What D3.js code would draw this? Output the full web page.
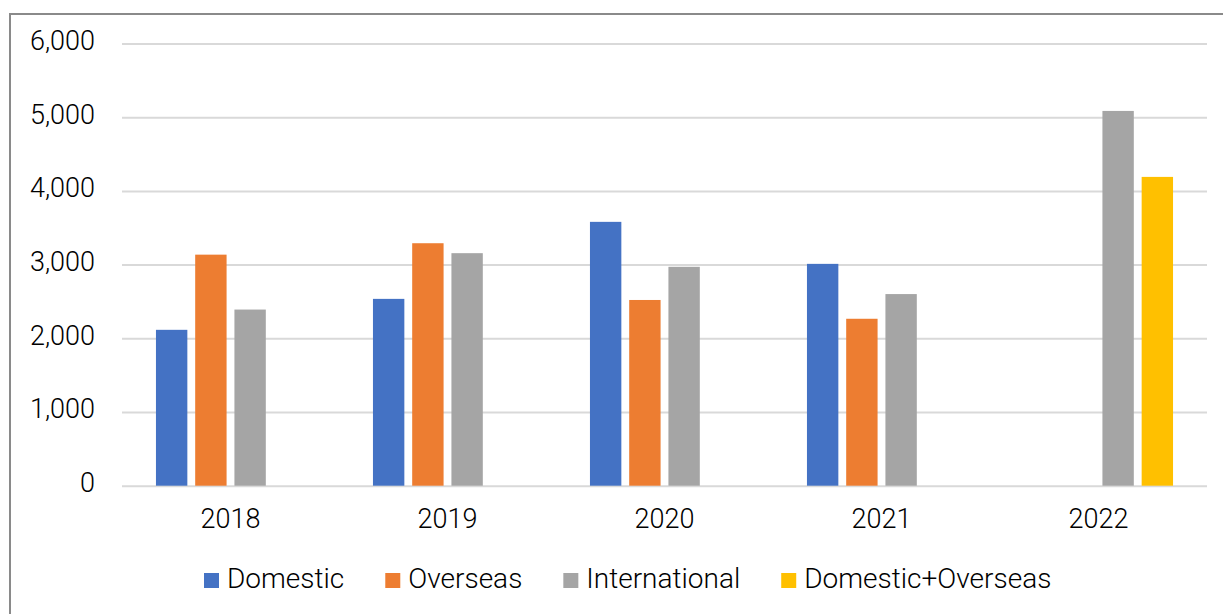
<!DOCTYPE html>
<html>
<head>
<meta charset="utf-8">
<script src="https://cdn.jsdelivr.net/npm/d3@7"></script>
<style>
  html, body { margin: 0; padding: 0; background: #fff; }
  svg { display: block; }
  text { font-family: Roboto, "Liberation Sans", sans-serif; font-weight: 300; fill: #000; }
</style>
</head>
<body>
<svg id="chart" width="1223" height="614"></svg>
<script>
const categories = ["2018", "2019", "2020", "2021", "2022"];
const seriesNames = ["Domestic", "Overseas", "International", "Domestic+Overseas"];
const domestic = [2115, 2535, 3580, 3010, null];
const overseas = [3135, 3290, 2520, 2265, null];
const international = [2390, 3155, 2970, 2600, 5085];
const domesticPlusOverseas = [null, null, null, null, 4190];
const yTicks = [0, 1000, 2000, 3000, 4000, 5000, 6000];
const colors = ["#4472C4", "#ED7D31", "#A5A5A5", "#FFC000"];

const seriesValues = [domestic, overseas, international, domesticPlusOverseas];

const svg = d3.select("#chart");
const W = 1223, H = 614;

// chart border (extends beyond right & bottom edge as in reference)
svg.append("rect")
  .attr("x", 10).attr("y", 14)
  .attr("width", W + 20).attr("height", H + 20)
  .attr("fill", "none").attr("stroke", "#8a8a8a").attr("stroke-width", 2);

const plot = { left: 122, right: 1207, top: 43.5, bottom: 485.7 };

const y = d3.scaleLinear().domain([0, 6000]).range([plot.bottom, plot.top]);
const x0 = d3.scaleBand().domain(categories)
  .range([plot.left, plot.right])
  .paddingInner(0.313).paddingOuter(0.1565);
const x1 = d3.scaleBand().domain(seriesNames)
  .range([0, x0.bandwidth()])
  .paddingInner(0.2).paddingOuter(0);

// gridlines
const yAxis = d3.axisLeft(y).tickValues(yTicks)
  .tickSize(-(plot.right - plot.left))
  .tickFormat(d3.format(","));
const gy = svg.append("g")
  .attr("transform", `translate(${plot.left},0)`)
  .call(yAxis);
gy.select(".domain").remove();
gy.selectAll(".tick line").attr("stroke", "#d9d9d9").attr("stroke-width", 2);
gy.selectAll(".tick text")
  .attr("x", -27).attr("dy", "0.22em")
  .style("font-size", "27px").style("font-family", "Roboto, sans-serif")
  .style("font-weight", 300)
  .attr("fill", "#000");

// bars
const rows = [];
categories.forEach((c, i) => {
  seriesNames.forEach((s, j) => {
    const v = seriesValues[j][i];
    if (v != null) rows.push({ cat: c, series: s, value: v, color: colors[j] });
  });
});

svg.append("g").selectAll("rect")
  .data(rows).join("rect")
  .attr("x", d => x0(d.cat) + x1(d.series))
  .attr("y", d => y(d.value))
  .attr("width", x1.bandwidth())
  .attr("height", d => y(0) - y(d.value))
  .attr("fill", d => d.color);

// x axis labels
const xAxis = d3.axisBottom(x0).tickSize(0).tickPadding(0);
const gx = svg.append("g")
  .attr("transform", `translate(0,${plot.bottom})`)
  .call(xAxis);
gx.select(".domain").remove();
gx.selectAll(".tick text")
  .attr("y", 42).attr("dy", 0)
  .style("font-size", "27px").style("font-family", "Roboto, sans-serif")
  .style("font-weight", 300)
  .attr("fill", "#000");

// legend
const legend = svg.append("g");
const sq = 15, gapSqText = 8, gapItems = 41, legendBaseline = 588;
const legendStart = 204;
const items = legend.selectAll("g").data(seriesNames).join("g");
items.append("rect")
  .attr("width", sq).attr("height", sq)
  .attr("y", legendBaseline - sq)
  .attr("fill", (d, i) => colors[i]);
items.append("text")
  .attr("x", sq + gapSqText).attr("y", legendBaseline)
  .style("font-size", "28px")
  .text(d => d);
const widths = [];
items.each(function () {
  widths.push(d3.select(this).select("text").node().getComputedTextLength());
});
let cur = legendStart;
const offsets = widths.map(w => { const o = cur; cur += sq + gapSqText + w + gapItems; return o; });
items.attr("transform", (d, i) => `translate(${offsets[i]},0)`);
</script>
</body>
</html>
